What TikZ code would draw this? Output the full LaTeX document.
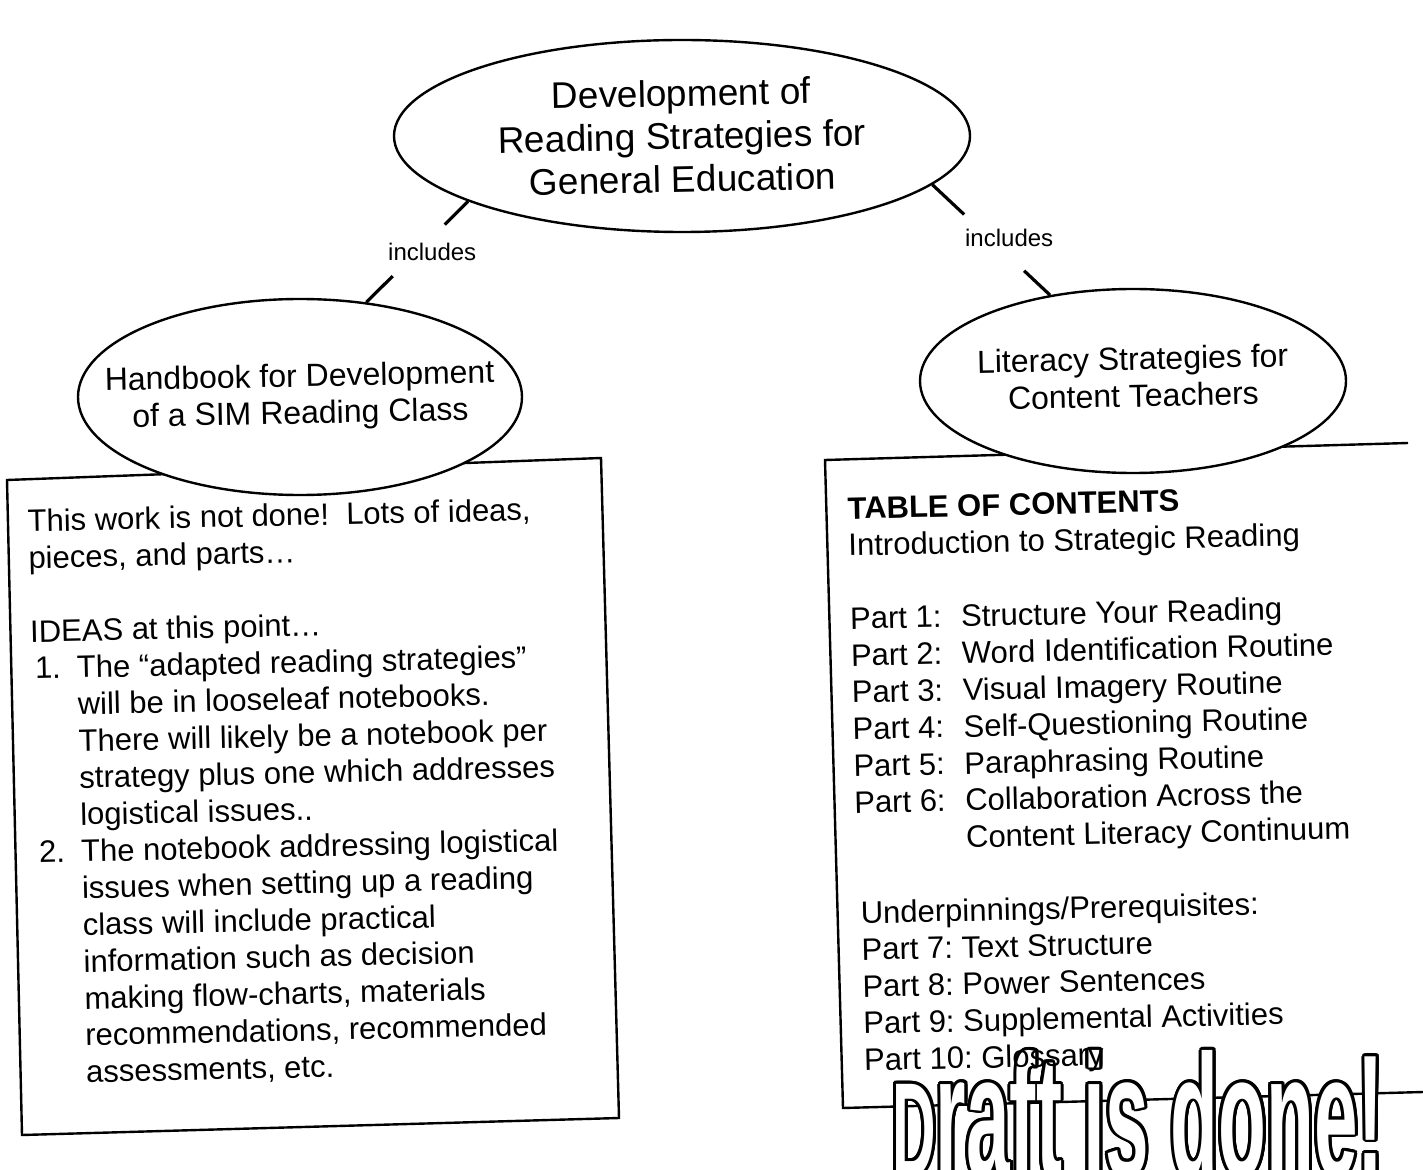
\documentclass[tikz,border=0pt]{standalone}
\usepackage{fontspec}
\setmainfont{Liberation Sans}
\newfontfamily\draftfont[FakeStretch=0.45]{Liberation Sans}
\usetikzlibrary{shapes.geometric,calc}
\frenchspacing
\begin{document}
\begin{tikzpicture}[x=0.5pt,y=-0.5pt,
  oval/.style={ellipse, draw, line width=1.2pt, fill=white, inner sep=0pt},
  ovaltext/.style={align=center, inner sep=0pt, rotate=1.2},
  conn/.style={line width=1.6pt},
  lbl/.style={inner sep=0pt, font=\fontsize{12}{14}\selectfont},
  boxline/.style={line width=1.2pt, line join=miter},
  boxtext/.style={anchor=north west, inner sep=0pt, align=left, rotate=1.3,
                  font=\fontsize{15.5}{18.4}\selectfont},
  drafttext/.style={anchor=base west, inner sep=0pt,
                  font=\draftfont\bfseries\fontsize{87}{90}\selectfont}]
\useasboundingbox (0,0) rectangle (1423,1170);
\fill[white] (0,0) rectangle (1423,1170);

% boxes
\draw[boxline] (7,480) -- (601,458) -- (619,1118) -- (22,1135) -- cycle;
\draw[boxline] (1408,443) -- (825,460) -- (843,1108) -- (1423,1092);

% Draft is done! (outlined, white inside, covering the box line)
\foreach \a in {0,20,...,340} {
  \node[drafttext, text=black, shift={(\a:1.5pt)}] (dc\a) at (892,1176)
    {{\fontsize{67}{70}\selectfont D}raft is done!};
}
\node[drafttext, text=white] (draft) at (892,1176)
  {{\fontsize{67}{70}\selectfont D}raft is done!};

% ellipses
\node[oval, minimum width=288pt, minimum height=96pt] (topE) at (682,136) {};
\node[oval, minimum width=222pt, minimum height=98pt] (leftE) at (300,397) {};
\node[oval, minimum width=213pt, minimum height=92pt] (rightE) at (1133,381) {};

\node[ovaltext, font=\fontsize{18.5}{21.5}\selectfont] (topT) at (topE)
  {Development of\\Reading Strategies for\\General Education};
\node[ovaltext, font=\fontsize{16}{18.5}\selectfont] (leftT) at (leftE)
  {Handbook for Development\\of a SIM Reading Class};
\node[ovaltext, font=\fontsize{16}{18.5}\selectfont] (rightT) at (1133,377)
  {Literacy Strategies for\\Content Teachers};

% connectors
\path (topE.197) -- (leftE.55)
  coordinate[pos=0.23] (l1) coordinate[pos=0.74] (l2)
  node[lbl, pos=0.5, xshift=7.5pt] (lblL) {includes};
\draw[conn] (topE.197) -- (l1);
\draw[conn] (l2) -- (leftE.55);
\path (topE.349) -- (rightE.134)
  coordinate[pos=0.27] (r1) coordinate[pos=0.78] (r2)
  node[lbl, pos=0.5, xshift=9pt, yshift=1pt] (lblR) {includes};
\draw[conn] (topE.349) -- (r1);
\draw[conn] (r2) -- (rightE.134);

% left box text
\node[boxtext] (leftBox) at (27,509) {This work is not done!\ \ Lots of ideas,\\
pieces, and parts\ldots\\[18.4pt]
IDEAS at this point\ldots\\
\makebox[23pt][l]{\hspace{2pt}1.}The “adapted reading strategies”\\
\hspace*{23pt}will be in looseleaf notebooks.\\
\hspace*{23pt}There will likely be a notebook per\\
\hspace*{23pt}strategy plus one which addresses\\
\hspace*{23pt}logistical issues..\\
\makebox[23pt][l]{\hspace{2pt}2.}The notebook addressing logistical\\
\hspace*{23pt}issues when setting up a reading\\
\hspace*{23pt}class will include practical\\
\hspace*{23pt}information such as decision\\
\hspace*{23pt}making flow-charts, materials\\
\hspace*{23pt}recommendations, recommended\\
\hspace*{23pt}assessments, etc.};

% right box text
\node[boxtext] (rightBox) at (847,497) {\textbf{TABLE OF CONTENTS}\\
Introduction to Strategic Reading\\[18.4pt]
\makebox[55.5pt][l]{Part 1:}Structure Your Reading\\
\makebox[55.5pt][l]{Part 2:}Word Identification Routine\\
\makebox[55.5pt][l]{Part 3:}Visual Imagery Routine\\
\makebox[55.5pt][l]{Part 4:}Self-Questioning Routine\\
\makebox[55.5pt][l]{Part 5:}Paraphrasing Routine\\
\makebox[55.5pt][l]{Part 6:}Collaboration Across the\\
\hspace*{55.5pt}Content Literacy Continuum\\[18.4pt]
\hspace*{2pt}Underpinnings/Prerequisites:\\
\hspace*{2pt}Part 7: Text Structure\\
\hspace*{2pt}Part 8: Power Sentences\\
\hspace*{2pt}Part 9: Supplemental Activities\\
\hspace*{2pt}Part 10: Glossary};
\end{tikzpicture}
\end{document}
